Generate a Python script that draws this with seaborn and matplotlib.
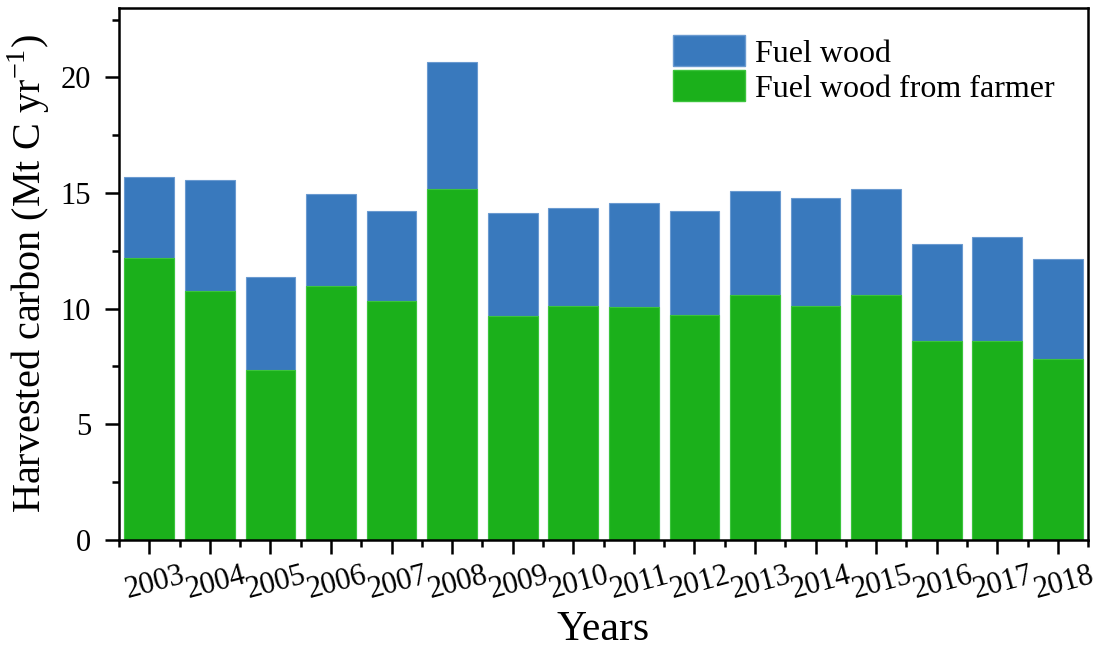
import matplotlib
matplotlib.use("Agg")
import matplotlib.pyplot as plt
import matplotlib.transforms as mtransforms
from matplotlib.ticker import MultipleLocator
from matplotlib.patches import Patch
import seaborn as sns
import pandas as pd

years = [str(y) for y in range(2003, 2019)]
fuel_wood = [15.69, 15.56, 11.38, 14.96, 14.22, 20.65, 14.14, 14.35,
             14.57, 14.22, 15.09, 14.78, 15.17, 12.80, 13.10, 12.16]
fuel_wood_farmer = [12.20, 10.78, 7.33, 10.99, 10.34, 15.17, 9.70, 10.13,
                    10.09, 9.74, 10.60, 10.13, 10.60, 8.62, 8.62, 7.84]

blue = "#3979BD"
green = "#1BB01B"

df = pd.DataFrame({"year": years, "fuel": fuel_wood, "farmer": fuel_wood_farmer})

sns.set_style("ticks")
plt.rcParams["font.family"] = ["Liberation Serif", "DejaVu Serif"]
plt.rcParams["mathtext.fontset"] = "custom"
plt.rcParams["mathtext.rm"] = "Liberation Serif"
plt.rcParams["text.color"] = "black"
plt.rcParams["axes.labelcolor"] = "black"

fig = plt.figure(figsize=(11.05, 6.52), dpi=100)
ax = fig.add_axes([0.1077, 0.1718, 0.877, 0.816])

sns.barplot(data=df, x="year", y="fuel", order=years, color=blue, width=0.82,
            saturation=1, edgecolor="#6a9ad0", linewidth=0.8, ax=ax)
sns.barplot(data=df, x="year", y="farmer", order=years, color=green, width=0.82,
            saturation=1, edgecolor="#3cc43c", linewidth=0.8, ax=ax)

ax.set_xlim(-0.5, len(years) - 0.5)
ax.set_ylim(0, 23)
ax.yaxis.set_major_locator(MultipleLocator(5))
ax.yaxis.set_minor_locator(MultipleLocator(2.5))
ax.set_xticks(range(len(years)))
ax.set_xticks([i + 0.5 for i in range(-1, len(years))], minor=True)

for s in ax.spines.values():
    s.set_visible(True)
    s.set_linewidth(1.8)
    s.set_color("black")

ax.tick_params(axis="both", which="major", direction="out", length=10, width=1.8,
               labelsize=22, colors="black", labelcolor="black")
ax.tick_params(axis="both", which="minor", direction="out", length=5, width=1.8,
               colors="black")
ax.tick_params(axis="x", which="major", pad=5)
ax.tick_params(axis="y", which="major", pad=10)

ax.set_xticklabels(years, rotation=15, ha="center")
offset = mtransforms.ScaledTranslation(6 / 100, 0, fig.dpi_scale_trans)
for lab in ax.get_xticklabels():
    lab.set_transform(lab.get_transform() + offset)

ax.set_xlabel("Years", fontsize=30, labelpad=4)
ax.set_ylabel("Harvested carbon (Mt C yr$^{\\mathregular{-1}}$)", fontsize=29, labelpad=6)

handles = [Patch(facecolor=blue, edgecolor="#6a9ad0", label="Fuel wood"),
           Patch(facecolor=green, edgecolor="#3cc43c", label="Fuel wood from farmer")]
ax.legend(handles=handles, loc="upper right", bbox_to_anchor=(0.985, 0.985),
          frameon=False, fontsize=23, handlelength=2.27, handleheight=1.13,
          handletextpad=0.3, labelspacing=0.05, borderaxespad=0.2)

fig.savefig("out.png", dpi=100)
